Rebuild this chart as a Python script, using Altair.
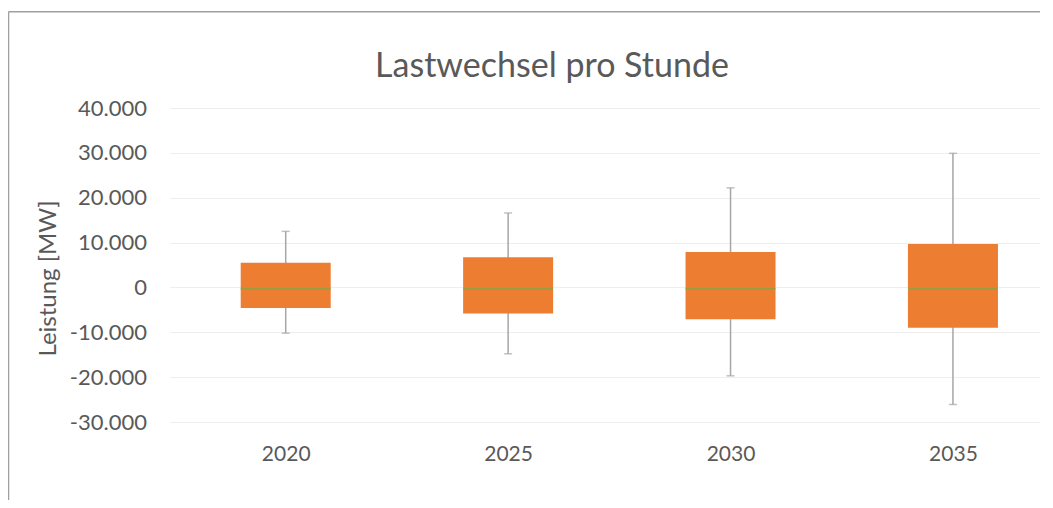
import altair as alt
import pandas as pd

TITLE = "Lastwechsel pro Stunde"
Y_TITLE = "Leistung [MW]"
years = [2020, 2025, 2030, 2035]
whisker_min = [-10200, -14800, -19700, -26100]
q1 = [-4600, -5800, -7100, -9000]
median = [-300, -300, -300, -300]
q3 = [5500, 6700, 7900, 9700]
whisker_max = [12500, 16600, 22200, 29900]
y_ticks = [-30000, -20000, -10000, 0, 10000, 20000, 30000, 40000]

df = pd.DataFrame({"Jahr": years, "min": whisker_min, "q1": q1,
                   "median": median, "q3": q3, "max": whisker_max})

FONT = "Lato"
GREY = "#595959"
W, H = 870, 314

xscale = alt.Scale(domain=[2017.5, 2017.5 + W / 45.0], nice=False, zero=False)
yscale = alt.Scale(domain=[-30000, 40000], nice=False, zero=False)

xaxis = alt.Axis(values=years, format="d", title=None, grid=False, domain=False,
                 ticks=False, tickSize=0, labelFontSize=21, labelColor=GREY,
                 labelFont=FONT, labelPadding=21)
yaxis = alt.Axis(values=y_ticks, title=Y_TITLE, grid=True, gridColor="#eeeeee",
                 gridWidth=1, domain=False, ticks=False, tickSize=0,
                 labelFontSize=22, labelColor=GREY, labelFont=FONT, labelPadding=23,
                 labelExpr="replace(replace(format(datum.value, ',.0f'), ',', '.'), '\u2212', '-')",
                 titleFont=FONT, titleFontSize=24, titleColor=GREY,
                 titleFontWeight="normal", titleX=-121.5, titleY=170,
                 titleBaseline="middle", titleAlign="center", titleAngle=270)

base = alt.Chart(df)

whisker = base.mark_rule(color="#a6a6a6", strokeWidth=1.5).encode(
    x=alt.X("Jahr:Q", scale=xscale, axis=xaxis),
    y=alt.Y("min:Q", scale=yscale, axis=yaxis),
    y2="max:Q",
)
cap_lo = base.mark_tick(color="#a6a6a6", orient="horizontal", size=8, thickness=1.5).encode(
    x=alt.X("Jahr:Q", scale=xscale), y=alt.Y("min:Q", scale=yscale))
cap_hi = base.mark_tick(color="#a6a6a6", orient="horizontal", size=8, thickness=1.5).encode(
    x=alt.X("Jahr:Q", scale=xscale), y=alt.Y("max:Q", scale=yscale))
box = base.mark_bar(color="#ED7D31", size=90).encode(
    x=alt.X("Jahr:Q", scale=xscale), y=alt.Y("q1:Q", scale=yscale), y2="q3:Q")
med = base.mark_tick(color="#70AD47", orient="horizontal", size=90, thickness=1.5).encode(
    x=alt.X("Jahr:Q", scale=xscale), y=alt.Y("median:Q", scale=yscale))

title = alt.Chart(pd.DataFrame({"t": [TITLE]})).mark_text(
    font=FONT, fontSize=34, color=GREY, align="center", baseline="alphabetic"
).encode(text="t:N", x=alt.value(382.5), y=alt.value(-31))

frame_left = alt.Chart(pd.DataFrame({"a": [0]})).mark_rule(color="#a0a0a0", strokeWidth=1.5).encode(
    x=alt.value(-161), y=alt.value(-96.3), y2=alt.value(420))
frame_top = alt.Chart(pd.DataFrame({"a": [0]})).mark_rule(color="#a0a0a0", strokeWidth=1.5).encode(
    x=alt.value(-161), x2=alt.value(W + 20), y=alt.value(-96.3))

chart = alt.layer(whisker, cap_lo, cap_hi, box, med, title, frame_left, frame_top).properties(
    width=W, height=H,
    autosize=alt.AutoSizeParams(type="none"),
    padding={"left": 161.5, "top": 100, "right": 0, "bottom": 78},
    background="white",
).configure_view(stroke=None)

chart.save("out.html", embed_options={"renderer": "svg", "actions": False})
